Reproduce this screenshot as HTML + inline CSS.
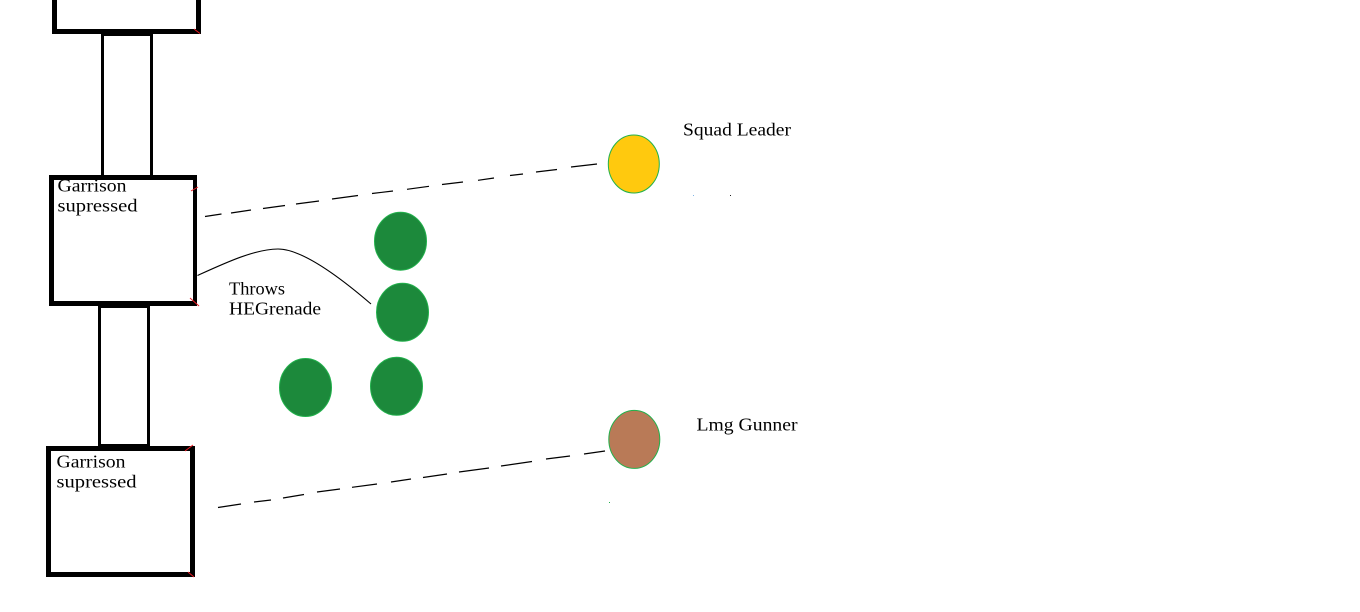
<!DOCTYPE html>
<html>
<head>
<meta charset="utf-8">
<style>
html,body{margin:0;padding:0;background:#fff;}
svg{display:block;}
text{font-family:"Liberation Serif",serif;font-size:18px;fill:#000;}
</style>
</head>
<body>
<svg width="1360" height="612" viewBox="0 0 1360 612" xmlns="http://www.w3.org/2000/svg">
<rect width="1360" height="612" fill="#fff"/>
<!-- boxes -->
<g fill="#000" shape-rendering="crispEdges">
<path fill-rule="evenodd" d="M52,-5H201V34H52ZM57,-5V29H196V-5Z"/>
<path fill-rule="evenodd" d="M49,175H197V306H49ZM54,180V301H193V180Z"/>
<path fill-rule="evenodd" d="M46,446H195V577H46ZM51,451V572H190V451Z"/>
<!-- connectors -->
<rect x="101" y="29" width="3" height="147"/>
<rect x="150" y="29" width="3" height="147"/>
<rect x="101" y="29" width="52" height="7"/>
<rect x="98" y="301" width="3" height="145"/>
<rect x="147" y="301" width="3" height="145"/>
<rect x="98" y="301" width="52" height="7"/>
<rect x="98" y="444" width="52" height="3"/>
</g>
<!-- red ticks -->
<g stroke="#ed1c24" stroke-width="1" fill="none">
<path d="M194,29L200,33.500"/>
<path d="M191,191L198,187"/>
<path d="M190,298L199,306"/>
<path d="M185,451L193,445"/>
<path d="M188,572L194,577"/>
</g>
<!-- dashed lines -->
<g stroke="#000" stroke-width="1.200" fill="none">
<path d="M205,216.500L221.500,214M231,213L251,210M263,208.500L285,205.500M296,204L319,201M332,199L358,195.500M372,193.500L393,191M407,189.300L429,186.300M442,184.500L463,182M478,180.300L494,178M510,175.500L523,174M536,172L557,169.500M571,167L597,164"/>
<path d="M218,507.500L241,504M254,502L271,500M283,498L304,494.500M317,492L340,489M352,487.300L377,484M391,482L411,479M423,477.500L447,474M459,472L489,468M501,466L532,461.500M546,459L570,456M584,454L605,451"/>
</g>
<!-- curve -->
<path d="M197.500,275.500C225,263 255,249 278,249C300,249 335,273 371,304" stroke="#000" stroke-width="1.100" fill="none"/>
<!-- circles -->
<g stroke="#22b14c" stroke-width="1" fill="#1c893b">
<ellipse cx="400.500" cy="241.200" rx="26" ry="29"/>
<ellipse cx="402.500" cy="312.300" rx="26" ry="29"/>
<ellipse cx="305.500" cy="387.500" rx="26" ry="29"/>
<ellipse cx="396.500" cy="386.300" rx="26" ry="29"/>
<ellipse cx="633.800" cy="164" rx="25.500" ry="29" fill="#ffc90e"/>
<ellipse cx="634.300" cy="439.400" rx="25.500" ry="29" fill="#b97a57"/>
</g>
<!-- specks -->
<rect x="693" y="195" width="1" height="1" fill="#7fb5e6"/>
<rect x="730" y="195" width="1" height="1" fill="#222"/>
<rect x="609" y="502" width="1" height="1" fill="#22b14c"/>
<!-- labels -->
<text x="57.500" y="191.500" textLength="69" lengthAdjust="spacingAndGlyphs">Garrison</text>
<text x="57.500" y="211.500" textLength="80" lengthAdjust="spacingAndGlyphs">supressed</text>
<text x="56.500" y="467.500" textLength="69" lengthAdjust="spacingAndGlyphs">Garrison</text>
<text x="56.500" y="487.500" textLength="80" lengthAdjust="spacingAndGlyphs">supressed</text>
<text x="229" y="294.500" textLength="56" lengthAdjust="spacingAndGlyphs">Throws</text>
<text x="229" y="314.500" textLength="92" lengthAdjust="spacingAndGlyphs">HEGrenade</text>
<text x="683" y="135.500" textLength="108" lengthAdjust="spacingAndGlyphs">Squad Leader</text>
<text x="696.500" y="430.500" textLength="101" lengthAdjust="spacingAndGlyphs">Lmg Gunner</text>
</svg>
</body>
</html>
